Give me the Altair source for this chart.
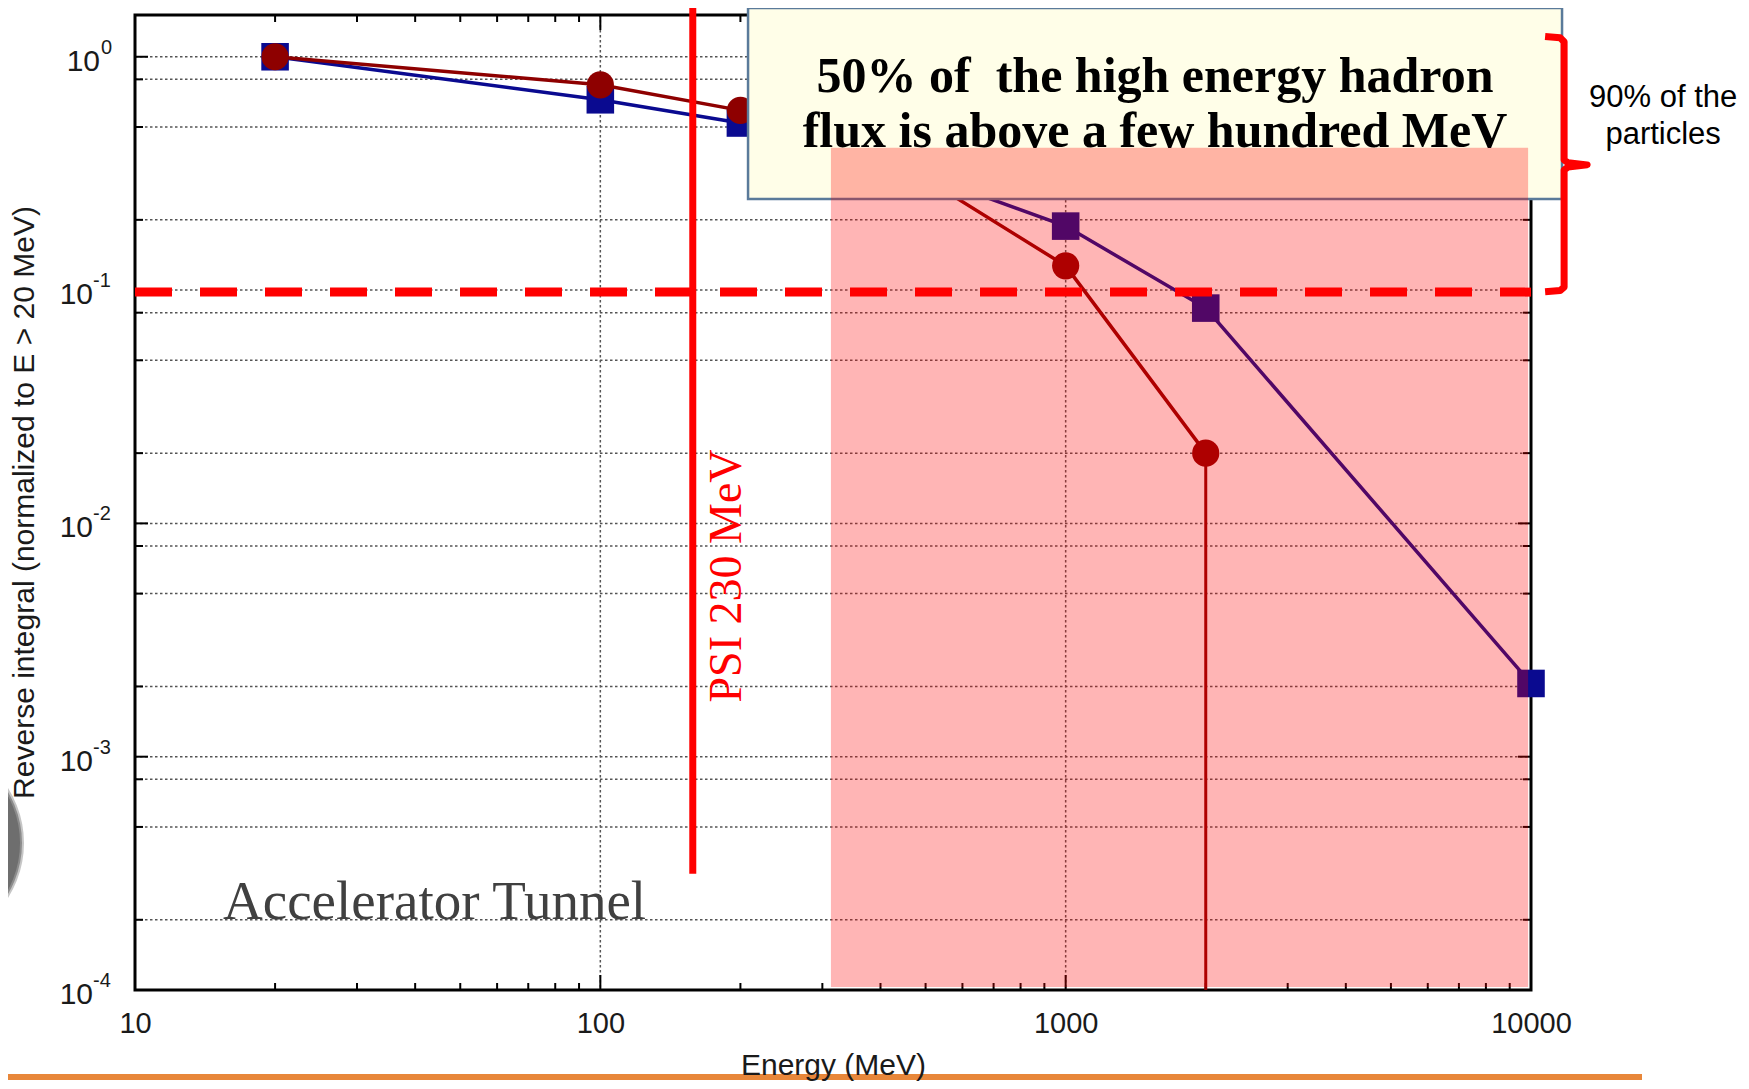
import altair as alt
import pandas as pd

# ---------------- data ----------------
energy_blue = [20, 100, 200, 500, 1000, 2000, 10000]
flux_blue = [1.0, 0.654, 0.52, 0.31, 0.188, 0.0837, 0.00206]
energy_red = [20, 100, 200, 500, 1000, 2000]
flux_red = [1.0, 0.758, 0.589, 0.30, 0.127, 0.020]

x_labels = [10, 100, 1000, 10000]
x_major_ticks = [10, 100, 1000, 10000]
x_minor_ticks = [20, 30, 40, 50, 60, 70, 80, 90,
                 200, 300, 400, 500, 600, 700, 800, 900,
                 2000, 3000, 4000, 5000, 6000, 7000, 8000, 9000]
x_grid = [100, 1000]
y_major = [1e-4, 1e-3, 1e-2, 1e-1, 1.0]
y_exponents = ["-4", "-3", "-2", "-1", "0"]
y_grid = [2e-4, 5e-4, 8e-4, 1e-3, 2e-3, 5e-3, 8e-3, 1e-2, 2e-2, 5e-2, 8e-2,
          1e-1, 0.2, 0.5, 0.8, 1.0]
y_minor_ticks = [2e-4, 5e-4, 8e-4, 2e-3, 5e-3, 8e-3, 2e-2, 5e-2, 8e-2,
                 0.2, 0.5, 0.8]

# annotations (data units)
threshold_y = [0.098]
psi_x = [158]
psi_y_top = [1.65]
psi_y_bottom = [3.15e-4]
box_x = [207.7]
box_x2 = [11660]
box_y = [1.618]
box_y2 = [0.2458]
box_lines = ["50% of\u00a0 the high energy hadron", "flux is above a few hundred MeV"]
box_text_x = [1556, 1556]
box_text_y = [0.7096, 0.412]
pink_x = [313]
pink_x2 = [9858]
pink_y = [0.407]
pink_y2 = [1.03e-4]
bracket_x = [10723, 11548, 11780, 11780, 12016, 13200, 12016, 11780, 11780, 11548, 10723]
bracket_y = [1.222, 1.206, 1.160, 0.361, 0.351, 0.344, 0.337, 0.327, 0.103, 0.0995, 0.0984]
side_lines = ["90% of the", "particles"]
side_x = [19230, 19230]
side_y = [0.667, 0.4625]

W, H = 1396, 975

xs = alt.Scale(type="log", domain=[10, 10000], nice=False)
ys = alt.Scale(type="log", domain=[1e-4, 1.51], nice=False)

xaxis = alt.Axis(values=x_labels, format="d", ticks=False, tickSize=0, domain=False,
                 grid=False, labelFont="Liberation Sans", labelFontSize=29,
                 labelColor="#1a1a1a", labelPadding=19, labelFlush=False,
                 labelOverlap=False, title="Energy (MeV)", titleFont="Liberation Sans",
                 titleFontSize=30, titleFontWeight="normal", titleColor="#1a1a1a",
                 titleX=698, titleY=75, titleBaseline="middle", titleAlign="center",
                 zindex=1)
yaxis = alt.Axis(labels=False, ticks=False, tickSize=0, domain=False, grid=False,
                 title="Reverse integral (normalized to E > 20 MeV)",
                 titleFont="Liberation Sans", titleFontSize=30, titleFontWeight="normal",
                 titleColor="#1a1a1a", titleAngle=270, titleX=-110.5, titleY=487,
                 titleBaseline="middle", titleAlign="center", zindex=1)


def X(f):
    return alt.X(f, type="quantitative", scale=xs, axis=xaxis)


def Y(f):
    return alt.Y(f, type="quantitative", scale=ys, axis=yaxis)


grid_h = alt.Chart(pd.DataFrame({"v": y_grid})).mark_rule(
    color="#555555", strokeWidth=1.5, strokeDash=[2.5, 2.5]
).encode(y=Y("v"), x=alt.value(0), x2=alt.value(W))

grid_v = alt.Chart(pd.DataFrame({"v": x_grid})).mark_rule(
    color="#555555", strokeWidth=1.5, strokeDash=[2.5, 2.5]
).encode(x=X("v"), y=alt.value(0), y2=alt.value(H))


def xticks(vals, length, top):
    c = alt.Chart(pd.DataFrame({"v": vals})).mark_rule(color="black", strokeWidth=2)
    if top:
        return c.encode(x=X("v"), y=alt.value(0), y2=alt.value(length))
    return c.encode(x=X("v"), y=alt.value(H), y2=alt.value(H - length))


def yticks(vals, length, right):
    c = alt.Chart(pd.DataFrame({"v": vals})).mark_rule(color="black", strokeWidth=2)
    if right:
        return c.encode(y=Y("v"), x=alt.value(W), x2=alt.value(W - length))
    return c.encode(y=Y("v"), x=alt.value(0), x2=alt.value(length))


ticks = [xticks(x_major_ticks, 15, False), xticks(x_minor_ticks, 7, False),
         xticks(x_major_ticks, 15, True), xticks(x_minor_ticks, 7, True),
         yticks(y_major, 13, False), yticks(y_minor_ticks, 8, False),
         yticks(y_major, 13, True), yticks(y_minor_ticks, 8, True)]

frame = alt.Chart(pd.DataFrame({"a": [0]})).mark_rect(
    fill="transparent", stroke="black", strokeWidth=3
).encode(x=alt.value(0), x2=alt.value(W), y=alt.value(0), y2=alt.value(H))

ylab_df = pd.DataFrame({"v": y_major, "e": y_exponents, "base": ["10"] * 5})
ylab_base_neg = alt.Chart(ylab_df.iloc[:4]).mark_text(
    align="right", baseline="middle", dx=-42, dy=5, font="Liberation Sans",
    fontSize=30, color="#1a1a1a"
).encode(y=Y("v"), x=alt.value(0), text="base:N")
ylab_exp_neg = alt.Chart(ylab_df.iloc[:4]).mark_text(
    align="left", baseline="middle", dx=-42, dy=-9, font="Liberation Sans",
    fontSize=20, color="#1a1a1a"
).encode(y=Y("v"), x=alt.value(0), text="e:N")
ylab_base_zero = alt.Chart(ylab_df.iloc[4:]).mark_text(
    align="right", baseline="middle", dx=-35, dy=5, font="Liberation Sans",
    fontSize=30, color="#1a1a1a"
).encode(y=Y("v"), x=alt.value(0), text="base:N")
ylab_exp_zero = alt.Chart(ylab_df.iloc[4:]).mark_text(
    align="left", baseline="middle", dx=-34, dy=-9, font="Liberation Sans",
    fontSize=20, color="#1a1a1a"
).encode(y=Y("v"), x=alt.value(0), text="e:N")

dashed = alt.Chart(pd.DataFrame({"y": threshold_y})).mark_rule(
    color="#ff0000", strokeWidth=9, strokeDash=[37, 28]
).encode(y=Y("y"), x=alt.value(0), x2=alt.value(W))

blue_df = pd.DataFrame({"energy": energy_blue, "flux": flux_blue})
red_df = pd.DataFrame({"energy": energy_red, "flux": flux_red})

blue_line = alt.Chart(blue_df).mark_line(color="#0a0a90", strokeWidth=3.5).encode(
    x=X("energy"), y=Y("flux"))
blue_pts = alt.Chart(blue_df).mark_point(shape="square", filled=True, size=760,
                                         color="#0a0a90", opacity=1).encode(
    x=X("energy"), y=Y("flux"))
red_line = alt.Chart(red_df).mark_line(color="#8e0000", strokeWidth=3.5).encode(
    x=X("energy"), y=Y("flux"))
red_pts = alt.Chart(red_df).mark_point(shape="circle", filled=True, size=740,
                                       color="#8e0000", opacity=1).encode(
    x=X("energy"), y=Y("flux"))
red_drop = alt.Chart(red_df.iloc[-1:]).mark_rule(color="#8e0000", strokeWidth=3).encode(
    x=X("energy"), y=Y("flux"), y2=alt.value(H))

box = alt.Chart(pd.DataFrame({"x": box_x, "x2": box_x2, "y": box_y, "y2": box_y2})).mark_rect(
    fill="#fffee8", stroke="#5a7a9a", strokeWidth=2.5
).encode(x=X("x"), x2="x2", y=Y("y"), y2="y2")

box_text = alt.Chart(pd.DataFrame({"x": box_text_x, "y": box_text_y, "t": box_lines})).mark_text(
    font="Liberation Serif", fontWeight="bold", fontSize=50, align="center",
    baseline="alphabetic", color="black"
).encode(x=X("x"), y=Y("y"), text="t:N")

pink = alt.Chart(pd.DataFrame({"x": pink_x, "x2": pink_x2, "y": pink_y, "y2": pink_y2})).mark_rect(
    fill="#ff0000", opacity=0.29
).encode(x=X("x"), x2="x2", y=Y("y"), y2="y2")

psi_line = alt.Chart(pd.DataFrame({"x": psi_x, "y": psi_y_top, "y2": psi_y_bottom})).mark_rule(
    color="#ff0000", strokeWidth=7
).encode(x=X("x"), y=Y("y"), y2="y2")

psi_text = alt.Chart(pd.DataFrame({"x": [200.6], "y": [0.00595], "t": ["PSI 230 MeV"]})).mark_text(
    font="Liberation Serif", fontSize=46, color="#ff0000", angle=270,
    align="center", baseline="alphabetic"
).encode(x=X("x"), y=Y("y"), text="t:N")

tunnel_text = alt.Chart(pd.DataFrame({"x": [15.46], "y": [2.02e-4], "t": ["Accelerator Tunnel"]})).mark_text(
    font="Liberation Serif", fontSize=55, color="#404040", align="left",
    baseline="alphabetic"
).encode(x=X("x"), y=Y("y"), text="t:N")

bracket = alt.Chart(pd.DataFrame({"x": bracket_x, "y": bracket_y,
                                  "i": list(range(len(bracket_x)))})).mark_line(
    color="#ff0000", strokeWidth=7, strokeJoin="round"
).encode(x=X("x"), y=Y("y"), order="i:Q")

side_text = alt.Chart(pd.DataFrame({"x": side_x, "y": side_y, "t": side_lines})).mark_text(
    font="Liberation Sans", fontSize=31, color="black", align="center", baseline="middle"
).encode(x=X("x"), y=Y("y"), text="t:N")

circle = alt.Chart(pd.DataFrame({"a": [0]})).mark_point(
    shape="circle", filled=True, size=40000, color="#6e6e6e", opacity=1,
    stroke="#a0a0a0", strokeWidth=4, strokeOpacity=0.6
).encode(x=alt.value(-213), y=alt.value(828))

orange = alt.Chart(pd.DataFrame({"a": [0]})).mark_rule(
    color="#e8873a", strokeWidth=6
).encode(x=alt.value(-135), x2=alt.value(1507), y=alt.value(1062))

chart = alt.layer(
    grid_h, grid_v, frame, *ticks,
    ylab_base_neg, ylab_exp_neg, ylab_base_zero, ylab_exp_zero,
    blue_line, blue_pts, red_line, red_pts, red_drop,
    dashed,
    box, box_text, pink,
    psi_line, psi_text, tunnel_text, bracket, side_text, circle, orange
).properties(
    width=W, height=H,
    autosize=alt.AutoSizeParams(type="none"),
    padding={"left": 127, "top": 7, "right": 210, "bottom": 91},
).configure_view(stroke=None).configure(background="white")

chart.save("out.html", embed_options={"renderer": "svg", "actions": False})
